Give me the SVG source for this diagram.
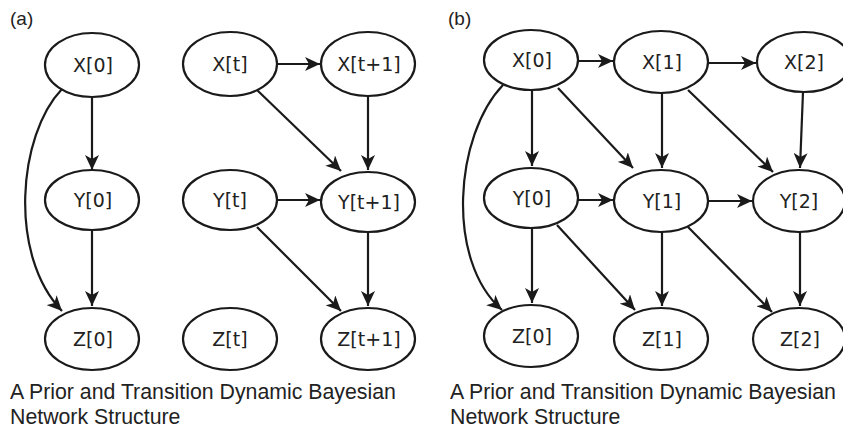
<svg xmlns="http://www.w3.org/2000/svg" width="843" height="430" viewBox="0 0 843 430">
<style>
.n ellipse{fill:#fff;stroke:#1a1a1a;stroke-width:2.2}
.n text{font-family:"DejaVu Sans",sans-serif;font-size:19px;fill:#222;text-anchor:middle}
.e path{fill:none;stroke:#1a1a1a;stroke-width:2.2;marker-end:url(#ah)}
.cap{font-family:"Liberation Sans",Arial,sans-serif;font-size:21.3px;fill:#222}
</style>
<defs>
<marker id="ah" markerUnits="userSpaceOnUse" markerWidth="16" markerHeight="14" viewBox="0 0 16 14" refX="15" refY="7" orient="auto">
<path d="M0,0 L15,7 L0,14 L4,7 z" fill="#1a1a1a"/>
</marker>
</defs>
<rect width="843" height="430" fill="#fff"/>
<text class="cap" x="10" y="25" style="font-size:19px">(a)</text>
<text class="cap" x="448" y="25" style="font-size:19px">(b)</text>
<g class="e" id="connectors">
<path d="M92,97 L92,170"/>
<path d="M92,230 L92,306"/>
<path d="M62,89 C18,135 8,255 62,311"/>
<path d="M277,64 L320,64"/>
<path d="M257,90 L341,171"/>
<path d="M368,96 L368,170"/>
<path d="M277,200 L320,200"/>
<path d="M368,232 L368,306"/>
<path d="M257,227 L341,311"/>
<path d="M578,61 L613,61"/>
<path d="M708,63 L756,63"/>
<path d="M532,90 L532,166"/>
<path d="M558,88 L633,168"/>
<path d="M662,93 L662,168"/>
<path d="M688,90 L773,172"/>
<path d="M803,92 L800,168"/>
<path d="M578,200 L613,200"/>
<path d="M708,201 L752,201"/>
<path d="M532,228 L532,303"/>
<path d="M557,225 L635,310"/>
<path d="M662,232 L662,306"/>
<path d="M688,227 L772,312"/>
<path d="M800,232 L800,306"/>
<path d="M503,85 C455,135 445,260 502,310"/>
</g>
<g class="n" id="a_x0"><ellipse cx="92" cy="65" rx="47" ry="32"/><text x="93" y="72">X[0]</text></g>
<g class="n" id="a_y0"><ellipse cx="92" cy="200" rx="47" ry="30"/><text x="93" y="207">Y[0]</text></g>
<g class="n" id="a_z0"><ellipse cx="92" cy="339" rx="47" ry="31"/><text x="93" y="346">Z[0]</text></g>
<g class="n" id="a_xt"><ellipse cx="230" cy="64" rx="47" ry="32"/><text x="230" y="71">X[t]</text></g>
<g class="n" id="a_xt1"><ellipse cx="368" cy="64" rx="47" ry="32"/><text x="369" y="71">X[t+1]</text></g>
<g class="n" id="a_yt"><ellipse cx="230" cy="200" rx="47" ry="30"/><text x="230" y="207">Y[t]</text></g>
<g class="n" id="a_yt1"><ellipse cx="368" cy="202" rx="47" ry="30"/><text x="369" y="209">Y[t+1]</text></g>
<g class="n" id="a_zt"><ellipse cx="230" cy="339" rx="47" ry="31"/><text x="230" y="346">Z[t]</text></g>
<g class="n" id="a_zt1"><ellipse cx="368" cy="339" rx="47" ry="31"/><text x="369" y="346">Z[t+1]</text></g>
<g class="n" id="b_x0"><ellipse cx="531" cy="60" rx="47" ry="30"/><text x="532" y="67">X[0]</text></g>
<g class="n" id="b_x1"><ellipse cx="661" cy="62" rx="47" ry="31"/><text x="662" y="69">X[1]</text></g>
<g class="n" id="b_x2"><ellipse cx="804" cy="62" rx="47" ry="30"/><text x="804" y="69">X[2]</text></g>
<g class="n" id="b_y0"><ellipse cx="531" cy="198" rx="47" ry="30"/><text x="532" y="205">Y[0]</text></g>
<g class="n" id="b_y1"><ellipse cx="661" cy="201" rx="47" ry="31"/><text x="662" y="208">Y[1]</text></g>
<g class="n" id="b_y2"><ellipse cx="799" cy="201" rx="46" ry="31"/><text x="799" y="208">Y[2]</text></g>
<g class="n" id="b_z0"><ellipse cx="531" cy="336" rx="47" ry="31"/><text x="532" y="343">Z[0]</text></g>
<g class="n" id="b_z1"><ellipse cx="661" cy="339" rx="47" ry="31"/><text x="662" y="346">Z[1]</text></g>
<g class="n" id="b_z2"><ellipse cx="799" cy="339" rx="46" ry="31"/><text x="800" y="346">Z[2]</text></g>
<text class="cap" x="10" y="399">A Prior and Transition Dynamic Bayesian</text>
<text class="cap" x="10" y="424">Network Structure</text>
<text class="cap" x="450" y="399">A Prior and Transition Dynamic Bayesian</text>
<text class="cap" x="450" y="424">Network Structure</text>
</svg>
